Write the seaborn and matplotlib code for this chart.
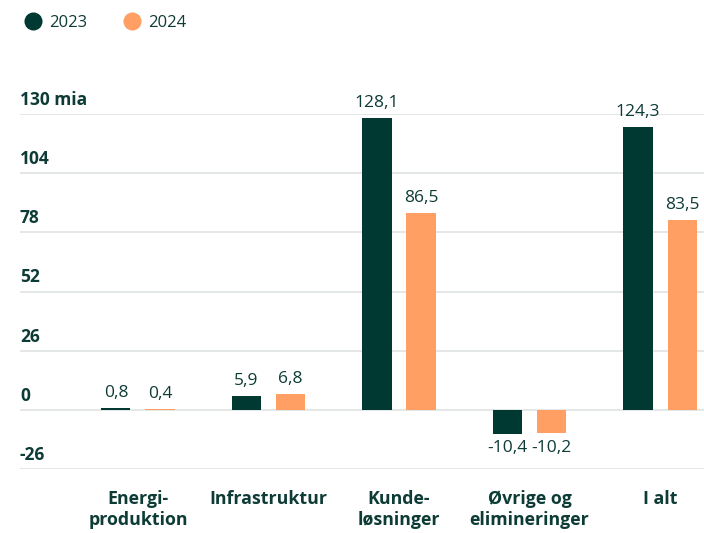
import matplotlib
matplotlib.use("Agg")
import matplotlib.pyplot as plt
from matplotlib.lines import Line2D
import seaborn as sns
import pandas as pd

categories = ["Energi-\nproduktion", "Infrastruktur", "Kunde-\nløsninger", "Øvrige og\nelimineringer", "I alt"]
values_2023 = [0.8, 5.9, 128.1, -10.4, 124.3]
values_2024 = [0.4, 6.8, 86.5, -10.2, 83.5]
years = ["2023", "2024"]
yticks = [-26, 0, 26, 52, 78, 104, 130]
ytick_labels = ["-26", "0", "26", "52", "78", "104", "130 mia"]

DARK = "#003932"
ORANGE = "#ff9f63"
GRID = "#e1e5e4"
TEXT = "#0d3b35"

df = pd.DataFrame({
    "category": categories * 2,
    "year": [years[0]] * len(categories) + [years[1]] * len(categories),
    "value": values_2023 + values_2024,
})

sns.set_theme(style="white")
plt.rcParams["font.family"] = ["Open Sans", "DejaVu Sans"]

fig = plt.figure(figsize=(7.04, 5.33), dpi=100)
ax = fig.add_axes([20 / 704, 64 / 533, 1 - 20 / 704, (469 - 114) / 533])

sns.barplot(data=df, x="category", y="value", hue="year", order=categories,
            hue_order=years, palette=[DARK, ORANGE], width=0.676, gap=0.34,
            legend=False, ax=ax, saturation=1, linewidth=0)

ax.set_ylim(-26, 130)
ax.set_xlim(-0.904, 4.337)
ax.set_yticks(yticks)
ax.set_yticklabels([])
ax.tick_params(axis="y", length=0)
ax.grid(axis="y", color=GRID, linewidth=1.3)
ax.set_axisbelow(True)
for s in ax.spines.values():
    s.set_visible(False)
ax.set_xlabel("")
ax.set_ylabel("")

for t, lab in zip(yticks, ytick_labels):
    ax.text(0, t + 2.2, lab, transform=ax.get_yaxis_transform(), ha="left", va="bottom",
            fontsize=12.5, fontweight="bold", color=TEXT)

ax.tick_params(axis="x", length=0, pad=15)
ax.set_xticks(range(len(categories)))
ax.set_xticklabels(categories, fontsize=12.8, fontweight="bold", color=TEXT, linespacing=1.25, va="top")

for cont, vals in zip(ax.containers, [values_2023, values_2024]):
    ax.bar_label(cont, labels=[f"{v:.1f}".replace(".", ",") for v in vals], padding=5,
                 fontsize=12.5, color=TEXT)

handles = [Line2D([], [], marker="o", linestyle="", markersize=13, markerfacecolor=c,
                  markeredgewidth=0) for c in [DARK, ORANGE]]
fig.legend(handles, years, loc="upper left", bbox_to_anchor=(8 / 704, 1 - 0 / 533), ncol=2,
           frameon=False, fontsize=12, labelcolor=TEXT, handletextpad=0.35, columnspacing=2.1,
           handlelength=1.2)

fig.savefig("out.png", dpi=100)
